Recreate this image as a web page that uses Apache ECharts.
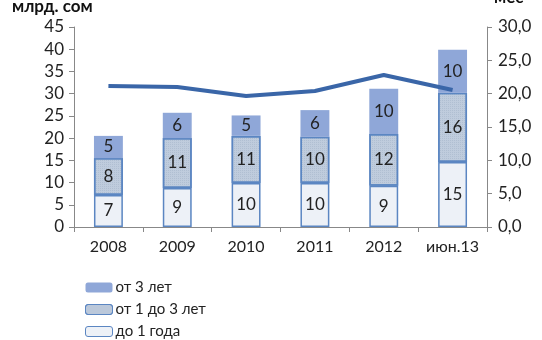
<!DOCTYPE html>
<html>
<head>
<meta charset="utf-8">
<script src="https://cdn.jsdelivr.net/npm/echarts@6/dist/echarts.min.js"></script>
<style>
  html, body { margin: 0; padding: 0; background: #fff; }
  #chart { width: 542px; height: 340px; }
</style>
</head>
<body>
<div id="chart"></div>
<script>
// Loan maturity structure (bn som) and average term (months)
const categories = ['2008', '2009', '2010', '2011', '2012', 'июн.13'];
const upTo1Year = [7.2, 8.8, 9.9, 9.9, 9.3, 14.6];
const from1To3Years = [8.3, 11.2, 10.6, 10.4, 11.6, 15.6];
const over3Years = [5.0, 5.7, 4.6, 6.0, 10.2, 9.7];
const avgTermMonths = [21.15, 21.0, 19.65, 20.4, 22.8, 20.55];

const seriesNames = ['до 1 года', 'от 1 до 3 лет', 'от 3 лет'];
const leftTicks = { min: 0, max: 45, interval: 5 };
const rightTicks = { min: 0, max: 30, interval: 5 };

const FONT = 'Lato, "Open Sans", sans-serif';
const chart = echarts.init(document.getElementById('chart'));

const segLabel = {
  show: true,
  position: 'inside',
  color: '#222',
  fontSize: 17,
  fontFamily: FONT,
  formatter: p => Math.round(p.value)
};

chart.setOption({
  animation: false,
  textStyle: { fontFamily: FONT },
  graphic: [
    { type: 'text', left: 12, top: -2, style: { text: 'млрд. сом', fontSize: 17, fontWeight: 'bold', fontFamily: FONT, fill: '#111' } },
    { type: 'text', left: 494, top: -11, style: { text: 'мес', fontSize: 17, fontWeight: 'bold', fontFamily: FONT, fill: '#111' } }
  ],
  grid: { left: 74, right: 55, top: 27, bottom: 113 },
  legend: {
    orient: 'vertical',
    left: 80,
    top: 275,
    height: 70,
    itemWidth: 27,
    itemHeight: 10,
    itemGap: 7,
    itemStyle: { borderWidth: 1 },
    data: ['от 3 лет', 'от 1 до 3 лет', 'до 1 года'],
    textStyle: { fontSize: 15, color: '#222', fontFamily: FONT, padding: [0, 0, 0, -2] }
  },
  xAxis: {
    type: 'category',
    data: categories,
    axisLine: { lineStyle: { color: '#888', width: 1 } },
    axisTick: { show: true, length: 5, lineStyle: { color: '#888' } },
    axisLabel: { color: '#222', fontSize: 16, margin: 12, fontFamily: FONT, interval: 0 }
  },
  yAxis: [
    {
      type: 'value',
      min: leftTicks.min, max: leftTicks.max, interval: leftTicks.interval,
      splitLine: { show: false },
      axisLine: { show: true, lineStyle: { color: '#888' } },
      axisTick: { show: true, length: 5, lineStyle: { color: '#888' } },
      axisLabel: { color: '#222', fontSize: 17, margin: 10, fontFamily: FONT }
    },
    {
      type: 'value',
      min: rightTicks.min, max: rightTicks.max, interval: rightTicks.interval,
      position: 'right',
      splitLine: { show: false },
      axisLine: { show: true, lineStyle: { color: '#888' } },
      axisTick: { show: true, length: 5, lineStyle: { color: '#888' } },
      axisLabel: { color: '#222', fontSize: 17, margin: 11, fontFamily: FONT,
        formatter: v => v.toFixed(1).replace('.', ',') }
    }
  ],
  series: [
    {
      name: seriesNames[0], type: 'bar', stack: 'loans', barWidth: '42%',
      data: upTo1Year,
      itemStyle: { color: '#EDF1F7', borderColor: '#5B86C2', borderWidth: 1.5 },
      label: segLabel
    },
    {
      name: seriesNames[1], type: 'bar', stack: 'loans',
      data: from1To3Years,
      itemStyle: {
        color: '#BFCCDD', borderColor: '#5B86C2', borderWidth: 1.5,
        decal: { symbol: 'rect', symbolSize: 1, dashArrayX: [1, 1], dashArrayY: [1, 1], color: 'rgba(130,150,180,0.25)' }
      },
      label: segLabel
    },
    {
      name: seriesNames[2], type: 'bar', stack: 'loans',
      data: over3Years,
      itemStyle: { color: '#8FA7D8' },
      label: segLabel
    },
    {
      name: 'средний срок', type: 'line', yAxisIndex: 1,
      data: avgTermMonths,
      symbol: 'none',
      lineStyle: { color: '#3A66A8', width: 4 },
      z: 5
    }
  ]
});
</script>
</body>
</html>
